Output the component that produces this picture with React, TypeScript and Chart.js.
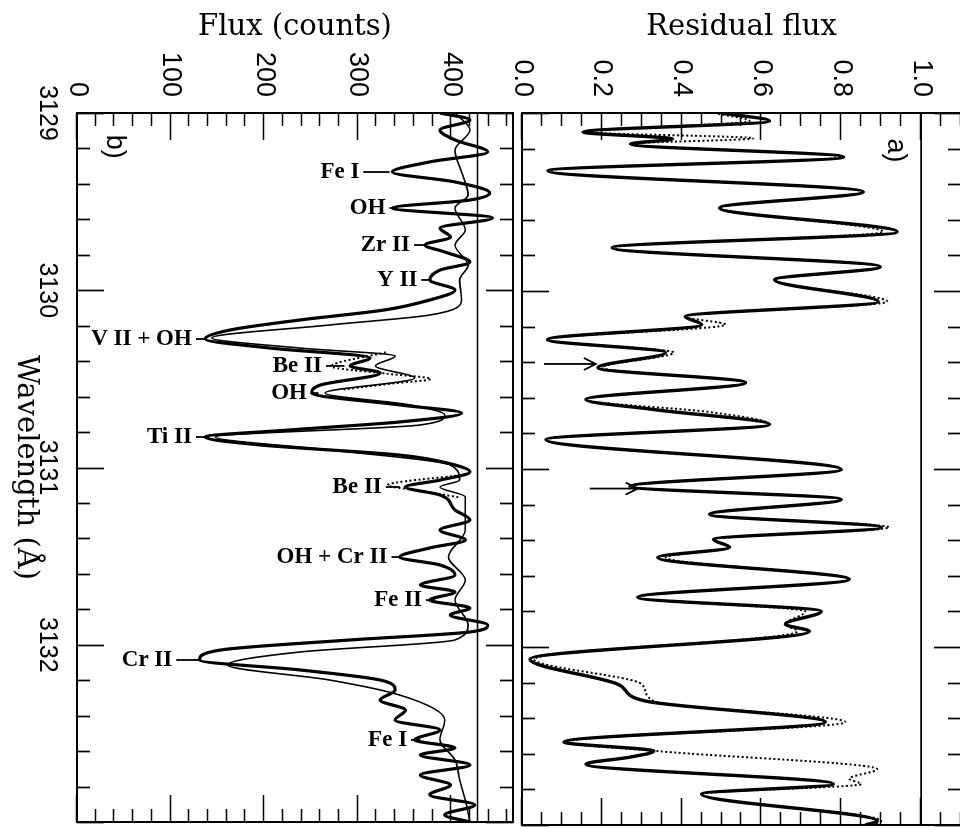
import React, { useEffect, useRef } from "react";
import { Chart, registerables } from "chart.js";

Chart.register(...registerables);

// ---------- axes ----------
const waveRange = [3129, 3133];
const waveTicks = [3129, 3130, 3131, 3132];
const waveMinorStep = 0.2;
const residualRange = [0, 1.1];
const residualTicks = [0, 0.2, 0.4, 0.6, 0.8, 1.0];
const residualMinorStep = 0.05;
const countRange = [0, 466];
const countTicks = [0, 100, 200, 300, 400];
const countMinorStep = 20;

// ---------- panel a: residual flux ----------
const obsResWave = [3129.0, 3129.045, 3129.107, 3129.146, 3129.174, 3129.247, 3129.325, 3129.443, 3129.533, 3129.668, 3129.757, 3129.864, 3129.937, 3130.06, 3130.144, 3130.189, 3130.273, 3130.346, 3130.431, 3130.515, 3130.61, 3130.666, 3130.75, 3130.835, 3131.003, 3131.098, 3131.171, 3131.255, 3131.328, 3131.396, 3131.44, 3131.497, 3131.62, 3131.721, 3131.8, 3131.872, 3131.912, 3132.069, 3132.209, 3132.304, 3132.422, 3132.534, 3132.585, 3132.619, 3132.658, 3132.77, 3132.826, 3132.978, 3133.0];
const obsResFlux = [0.5, 0.62, 0.153, 0.377, 0.272, 0.806, 0.065, 0.855, 0.495, 0.94, 0.226, 0.898, 0.633, 0.892, 0.409, 0.45, 0.064, 0.36, 0.19, 0.56, 0.16, 0.33, 0.62, 0.06, 0.8, 0.27, 0.8, 0.47, 0.9, 0.48, 0.52, 0.34, 0.82, 0.29, 0.75, 0.66, 0.72, 0.02, 0.24, 0.31, 0.76, 0.105, 0.33, 0.27, 0.16, 0.78, 0.45, 0.89, 0.86];

const synResWave = [3129.0, 3129.045, 3129.107, 3129.142, 3129.174, 3129.247, 3129.325, 3129.443, 3129.533, 3129.668, 3129.757, 3129.864, 3129.937, 3130.06, 3130.144, 3130.189, 3130.273, 3130.346, 3130.431, 3130.515, 3130.61, 3130.68, 3130.75, 3130.835, 3131.003, 3131.098, 3131.171, 3131.255, 3131.328, 3131.396, 3131.44, 3131.497, 3131.62, 3131.721, 3131.8, 3131.872, 3131.912, 3132.069, 3132.209, 3132.304, 3132.422, 3132.534, 3132.585, 3132.686, 3132.74, 3132.77, 3132.826, 3132.978, 3133.0];
const synResFlux = [0.48, 0.57, 0.16, 0.58, 0.27, 0.806, 0.065, 0.855, 0.495, 0.905, 0.226, 0.898, 0.633, 0.915, 0.41, 0.51, 0.064, 0.38, 0.2, 0.56, 0.16, 0.47, 0.62, 0.06, 0.8, 0.27, 0.8, 0.47, 0.92, 0.48, 0.52, 0.36, 0.82, 0.29, 0.71, 0.66, 0.69, 0.03, 0.3, 0.33, 0.81, 0.11, 0.34, 0.89, 0.82, 0.85, 0.45, 0.9, 0.87];

const continuumResidual = 1.0;

const arrowWave = [3130.41, 3131.11];
const arrowFrom = [0.055, 0.17];
const arrowTo = [0.185, 0.29];

// ---------- panel b: counts ----------
const obsCountWave = [3129.0, 3129.039, 3129.096, 3129.152, 3129.22, 3129.276, 3129.333, 3129.389, 3129.451, 3129.491, 3129.536, 3129.592, 3129.649, 3129.7, 3129.745, 3129.784, 3129.841, 3129.886, 3129.942, 3129.999, 3130.055, 3130.111, 3130.168, 3130.224, 3130.275, 3130.326, 3130.382, 3130.427, 3130.467, 3130.535, 3130.58, 3130.647, 3130.693, 3130.743, 3130.788, 3130.828, 3130.873, 3130.93, 3130.986, 3131.025, 3131.071, 3131.11, 3131.155, 3131.24, 3131.296, 3131.353, 3131.409, 3131.454, 3131.505, 3131.55, 3131.607, 3131.663, 3131.702, 3131.748, 3131.793, 3131.832, 3131.889, 3131.928, 3131.973, 3132.03, 3132.086, 3132.142, 3132.199, 3132.256, 3132.312, 3132.369, 3132.425, 3132.481, 3132.537, 3132.582, 3132.622, 3132.678, 3132.735, 3132.791, 3132.847, 3132.904, 3132.96, 3133.0];
const obsCountFlux = [388, 420, 388, 404, 439, 377, 337, 404, 441, 420, 337, 444, 388, 399, 372, 393, 420, 388, 377, 404, 377, 329, 238, 164, 137, 206, 313, 292, 324, 260, 251, 345, 411, 345, 228, 137, 196, 345, 404, 420, 388, 351, 388, 404, 420, 388, 415, 377, 345, 388, 404, 367, 404, 377, 420, 399, 439, 420, 292, 153, 131, 238, 324, 340, 324, 351, 340, 388, 361, 404, 367, 420, 367, 399, 377, 425, 393, 420];

const refCountWave = [3129.0, 3129.096, 3129.209, 3129.333, 3129.463, 3129.536, 3129.66, 3129.745, 3129.858, 3129.942, 3130.055, 3130.14, 3130.196, 3130.269, 3130.326, 3130.371, 3130.427, 3130.495, 3130.58, 3130.647, 3130.704, 3130.76, 3130.828, 3130.901, 3130.986, 3131.071, 3131.11, 3131.166, 3131.353, 3131.505, 3131.635, 3131.748, 3131.889, 3131.973, 3132.041, 3132.114, 3132.199, 3132.284, 3132.425, 3132.537, 3132.65, 3132.763, 3132.876, 3133.0];
const refCountFlux = [404, 420, 404, 411, 418, 404, 415, 404, 418, 409, 411, 377, 270, 144, 238, 340, 319, 361, 265, 356, 393, 367, 148, 270, 399, 409, 388, 415, 415, 397, 415, 404, 418, 404, 238, 161, 270, 345, 393, 388, 404, 409, 415, 420];

// synthetic profiles around the two Be II lines (dotted)
const synBe1Wave = [3130.35, 3130.43, 3130.47, 3130.5, 3130.53, 3130.56];
const synBe1Flux = [330, 272, 330, 378, 330, 285];
const synBe2Wave = [3131.04, 3131.1, 3131.13, 3131.17];
const synBe2Flux = [415, 332, 365, 410];

const continuumCounts = 428;

// line identifications: text, wavelength, flux where text ends, flux where leader ends
const labelText = ["Fe I", "OH", "Zr II", "Y II", "V II + OH", "Be II", "OH", "Ti II", "Be II", "OH + Cr II", "Fe II", "Cr II", "Fe I"];
const labelWave = [3129.333, 3129.536, 3129.745, 3129.942, 3130.275, 3130.427, 3130.58, 3130.828, 3131.11, 3131.505, 3131.748, 3132.086, 3132.537];
const labelEnd = [305, 333, 359, 367, 126, 265, 249, 126, 329, 335, 372, 105, 356];
const labelTip = [334, 343, 372, 379, 137, 286, 258, 142, 345, 345, 383, 131, 367];

const panelTag = ["a)", "b)"];
const panelTagWave = [3129.21, 3129.19];
const panelTagValue = [0.935, 40];

// ---------- helpers ----------
const xy = (w: number[], f: number[]) => w.map((x, i) => ({ x, y: f[i] }));

function seq(min: number, max: number, step: number) {
  const out: number[] = [];
  const n = Math.round((max - min) / step);
  for (let i = 0; i <= n; i++) {
    const v = min + i * step;
    if (v <= max + 1e-9) out.push(v);
  }
  return out;
}

function framePlugin(yMinor: number, yMajor: number[]) {
  return {
    id: "frameTicks",
    afterDatasetsDraw(chart: any) {
      const { ctx, chartArea } = chart;
      const { left, right, top, bottom } = chartArea;
      const xs = chart.scales.x;
      const ys = chart.scales.y;
      ctx.save();
      ctx.strokeStyle = "#000";
      ctx.lineWidth = 2;
      ctx.strokeRect(left, top, right - left, bottom - top);
      ctx.lineWidth = 1.7;
      ctx.beginPath();
      for (const v of seq(xs.min, xs.max, waveMinorStep)) {
        const major = Math.abs(v - Math.round(v)) < 1e-6;
        const len = major ? 27 : 13;
        const px = Math.round(xs.getPixelForValue(v)) + 0.5;
        ctx.moveTo(px, top);
        ctx.lineTo(px, top + len);
        ctx.moveTo(px, bottom);
        ctx.lineTo(px, bottom - len);
      }
      for (const v of seq(ys.min, ys.max, yMinor)) {
        const major = yMajor.some((m) => Math.abs(m - v) < 1e-6);
        const len = major ? 27 : 13;
        const py = Math.round(ys.getPixelForValue(v)) + 0.5;
        ctx.moveTo(left, py);
        ctx.lineTo(left + len, py);
        ctx.moveTo(right, py);
        ctx.lineTo(right - len, py);
      }
      ctx.stroke();
      ctx.restore();
    },
  };
}

const tagPlugin = (idx: number) => ({
  id: "panelTag",
  afterDatasetsDraw(chart: any) {
    const { ctx } = chart;
    const px = chart.scales.x.getPixelForValue(panelTagWave[idx]);
    const py = chart.scales.y.getPixelForValue(panelTagValue[idx]);
    ctx.save();
    ctx.fillStyle = "#000";
    ctx.font = '27px "Liberation Sans"';
    ctx.textAlign = "center";
    ctx.textBaseline = "middle";
    ctx.fillText(panelTag[idx], px, py);
    ctx.restore();
  },
});

const arrowPlugin = {
  id: "arrows",
  afterDatasetsDraw(chart: any) {
    const { ctx } = chart;
    const xs = chart.scales.x;
    const ys = chart.scales.y;
    ctx.save();
    ctx.strokeStyle = "#000";
    ctx.lineWidth = 1.8;
    arrowWave.forEach((w, i) => {
      const px = xs.getPixelForValue(w);
      const y0 = ys.getPixelForValue(arrowFrom[i]);
      const y1 = ys.getPixelForValue(arrowTo[i]);
      ctx.beginPath();
      ctx.moveTo(px, y0);
      ctx.lineTo(px, y1);
      ctx.moveTo(px - 6, y1 + 12);
      ctx.lineTo(px, y1);
      ctx.lineTo(px + 6, y1 + 12);
      ctx.stroke();
    });
    ctx.restore();
  },
};

const labelPlugin = {
  id: "lineLabels",
  afterDatasetsDraw(chart: any) {
    const { ctx } = chart;
    const xs = chart.scales.x;
    const ys = chart.scales.y;
    ctx.save();
    ctx.fillStyle = "#000";
    ctx.strokeStyle = "#000";
    ctx.lineWidth = 1.8;
    ctx.font = 'bold 23px "Liberation Serif"';
    labelText.forEach((t, i) => {
      const px = xs.getPixelForValue(labelWave[i]);
      const pe = ys.getPixelForValue(labelEnd[i]);
      const pt = ys.getPixelForValue(labelTip[i]);
      ctx.save();
      ctx.translate(px, pe);
      ctx.rotate(-Math.PI / 2);
      ctx.textAlign = "right";
      ctx.textBaseline = "middle";
      ctx.fillText(t, -3, 0);
      ctx.restore();
      ctx.beginPath();
      ctx.moveTo(px, pe - 1);
      ctx.lineTo(px, pt);
      ctx.stroke();
    });
    ctx.restore();
  },
};

const yTickFont = { family: '"Liberation Sans", Arial, sans-serif', size: 27 };
const xTickFont = { family: '"Liberation Sans", Arial, sans-serif', size: 25 };
const titleFont = { family: '"DejaVu Serif", serif', size: 29 };

const fitY = (s: any) => {
  s.width = 113;
  s.paddingTop = 0;
  s.paddingBottom = 0;
};
const fitX = (s: any) => {
  s.height = 77;
  s.paddingLeft = 0;
  s.paddingRight = 0;
};

const solid = (data: any[], width: number) => ({
  data,
  borderColor: "#000",
  borderWidth: width,
  pointRadius: 0,
  cubicInterpolationMode: "monotone",
});
const dotted = (data: any[]) => ({
  data,
  borderColor: "#000",
  borderWidth: 2,
  borderDash: [2, 2.5],
  pointRadius: 0,
  cubicInterpolationMode: "monotone",
});

function PanelA() {
  const ref = useRef<HTMLCanvasElement>(null);
  useEffect(() => {
    if (!ref.current) return;
    const chart = new Chart(ref.current, {
      type: "line",
      data: {
        datasets: [
          solid(xy(obsResWave, obsResFlux), 3.4),
          dotted(xy(synResWave, synResFlux)),
          solid(xy(waveRange, [continuumResidual, continuumResidual]), 1.6),
        ],
      } as any,
      options: {
        animation: false,
        responsive: false,
        events: [],
        layout: { padding: { top: 2, bottom: 39, left: 0, right: 3 } },
        plugins: { legend: { display: false }, tooltip: { enabled: false } },
        scales: {
          x: { type: "linear", min: waveRange[0], max: waveRange[1], display: false },
          y: {
            type: "linear",
            position: "left",
            min: residualRange[0],
            max: residualRange[1],
            grid: { display: false, drawTicks: false, tickLength: 0 },
            border: { display: false },
            afterBuildTicks: (s: any) => {
              s.ticks = residualTicks.map((v) => ({ value: v }));
            },
            afterFit: fitY,
            ticks: {
              color: "#000",
              font: yTickFont,
              padding: 16,
              callback: (v: any) => Number(v).toFixed(1),
            },
            title: {
              display: true,
              text: "Residual flux",
              color: "#000",
              font: titleFont,
              padding: { top: 10, bottom: 0 },
            },
          },
        },
      } as any,
      plugins: [framePlugin(residualMinorStep, residualTicks), arrowPlugin, tagPlugin(0)],
    });
    return () => chart.destroy();
  }, []);
  return (
    <canvas
      ref={ref}
      width={828}
      height={480}
      style={{ position: "absolute", left: 0, top: -3, width: 828, height: 480 }}
    />
  );
}

function PanelB() {
  const ref = useRef<HTMLCanvasElement>(null);
  useEffect(() => {
    if (!ref.current) return;
    const chart = new Chart(ref.current, {
      type: "line",
      data: {
        datasets: [
          solid(xy(obsCountWave, obsCountFlux), 3.2),
          solid(xy(refCountWave, refCountFlux), 1.6),
          dotted(xy(synBe1Wave, synBe1Flux)),
          dotted(xy(synBe2Wave, synBe2Flux)),
          solid(xy(waveRange, [continuumCounts, continuumCounts]), 1.5),
        ],
      } as any,
      options: {
        animation: false,
        responsive: false,
        events: [],
        layout: { padding: { top: 2, bottom: 0, left: 0, right: 6 } },
        plugins: { legend: { display: false }, tooltip: { enabled: false } },
        scales: {
          x: {
            type: "linear",
            position: "bottom",
            min: waveRange[0],
            max: waveRange[1],
            grid: { display: false, drawTicks: false, tickLength: 0 },
            border: { display: false },
            afterBuildTicks: (s: any) => {
              s.ticks = waveTicks.map((v) => ({ value: v }));
            },
            afterFit: fitX,
            ticks: {
              color: "#000",
              font: xTickFont,
              padding: 15,
              maxRotation: 0,
              minRotation: 0,
              callback: (v: any) => String(v),
            },
            title: {
              display: true,
              text: "Wavelength (Å)",
              color: "#000",
              font: titleFont,
              padding: { top: 0, bottom: 8 },
            },
          },
          y: {
            type: "linear",
            position: "left",
            min: countRange[0],
            max: countRange[1],
            grid: { display: false, drawTicks: false, tickLength: 0 },
            border: { display: false },
            afterBuildTicks: (s: any) => {
              s.ticks = countTicks.map((v) => ({ value: v }));
            },
            afterFit: fitY,
            ticks: {
              color: "#000",
              font: yTickFont,
              padding: 16,
              callback: (v: any) => String(v),
            },
            title: {
              display: true,
              text: "Flux (counts)",
              color: "#000",
              font: titleFont,
              padding: { top: 10, bottom: 0 },
            },
          },
        },
      } as any,
      plugins: [framePlugin(countMinorStep, countTicks), labelPlugin, tagPlugin(1)],
    });
    return () => chart.destroy();
  }, []);
  return (
    <canvas
      ref={ref}
      width={828}
      height={515}
      style={{ position: "absolute", left: 0, top: 445, width: 828, height: 515 }}
    />
  );
}

export default function App() {
  return (
    <div
      style={{
        position: "absolute",
        left: 0,
        top: 0,
        width: 960,
        height: 828,
        overflow: "hidden",
        background: "#fff",
      }}
    >
      <div
        style={{
          position: "absolute",
          left: 0,
          top: 0,
          width: 828,
          height: 960,
          transformOrigin: "0 0",
          transform: "translate(960px, 0px) rotate(90deg)",
          background: "#fff",
        }}
      >
        <PanelA />
        <PanelB />
      </div>
    </div>
  );
}
